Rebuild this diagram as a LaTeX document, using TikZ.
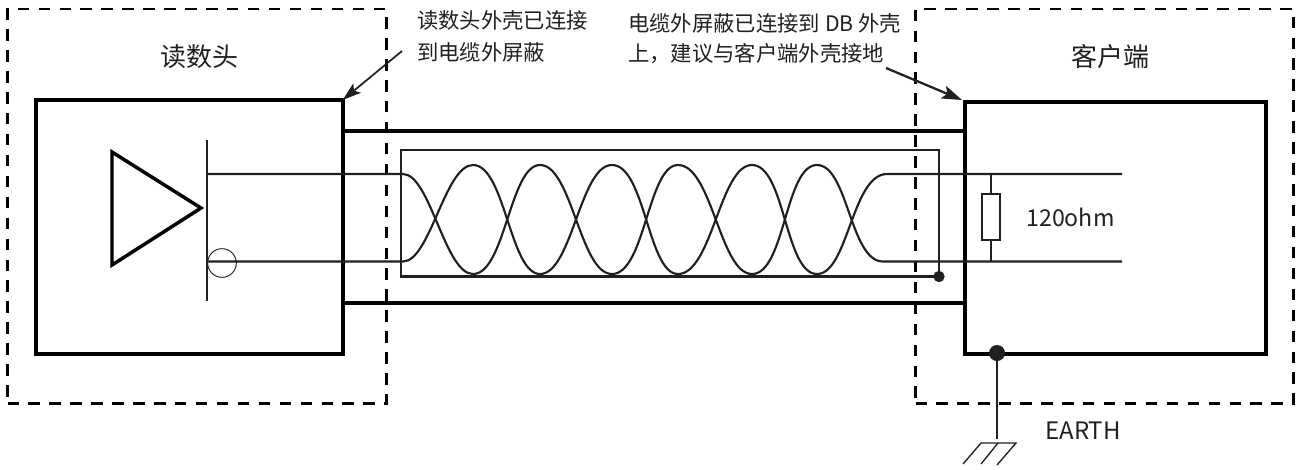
\documentclass[tikz,border=0pt]{standalone}
\usepackage{fontspec}
\setmainfont{Noto Sans CJK SC}
\usetikzlibrary{arrows.meta}
\definecolor{ink}{HTML}{231F20}
\tikzset{
  x=0.75pt,y=-0.75pt,
  guard/.style={draw=black,line width=2.1pt,dash pattern=on 8.6pt off 7.1pt,minimum width=#1,minimum height=296pt,inner sep=0pt,outer sep=0pt},
  device/.style={draw=black,line width=3.2pt,inner sep=0pt,outer sep=0pt},
  cableline/.style={draw=black,line width=2.5pt},
  wire/.style={draw=ink,line width=1.6pt},
  thinwire/.style={draw=ink,line width=0.8pt},
  shield/.style={draw=ink,line width=1.6pt},
  junction/.style={circle,fill=ink,inner sep=0pt,outer sep=0pt},
  bigtext/.style={text=ink,font=\fontsize{19.5}{24}\selectfont,inner sep=0pt},
  smalltextA/.style={text=ink,font=\fontsize{16}{24}\selectfont,inner sep=0pt,align=left,anchor=north west},
  smalltextB/.style={text=ink,font=\fontsize{16}{22}\selectfont,inner sep=0pt,align=left,anchor=north west},
  midtext/.style={text=ink,inner sep=0pt},
}
\begin{document}
\begin{tikzpicture}
\useasboundingbox (0,0) rectangle (1301,469);
% guard frames
\node[guard=284pt,anchor=north west] (gl) at (7.5,9) {};
\node[guard=283.5pt,anchor=north west] (gr) at (915.5,9) {};
% cable
\node[device,minimum width=230pt,minimum height=190.5pt,anchor=north west] (reader) at (36,100) {};
\node[device,minimum width=225.5pt,minimum height=189pt,anchor=north west] (client) at (965,102) {};
\coordinate (rt) at (reader.east |- 0,131);
\coordinate (ct) at (client.west |- 0,131);
\coordinate (rb) at (reader.east |- 0,303);
\coordinate (cb) at (client.west |- 0,303);
\draw[cableline] (rt) -- (ct);
\draw[cableline] (rb) -- (cb);
% shield
\coordinate (sa) at (401,276.5);
\coordinate (sb) at (401,150);
\coordinate (sc) at (939,150);
\node[junction,minimum size=8.5pt] (sdot) at (939,276.5) {};
\draw[shield] (sdot.center) -- (sc) -- (sb) -- (sa) -- (sdot.center);
% driver
\coordinate (bart) at (207,140);
\coordinate (barb) at (207,301);
\draw[wire] (bart) -- (barb);
\draw[draw=black,line width=2.6pt,line join=miter] (112,152) -- (201,208) -- (112,265) -- cycle;
\node[circle,draw=ink,line width=0.7pt,minimum size=21.5pt,inner sep=0pt] (inv) at (222,263) {};
% twisted pair
\coordinate (a0) at (207,174);
\coordinate (b0) at (207,261.5);
\coordinate (a1) at (1122,261.5);
\coordinate (b1) at (1122,174);
\draw[wire] (a0) -- (403,174) .. controls (430,174) and (445,274) .. (473,274)
  .. controls (505,274) and (510,165) .. (540,165)
  .. controls (572,165) and (580,274) .. (612,274)
  .. controls (645,274) and (648,165) .. (678,165)
  .. controls (712,165) and (720,274) .. (752,274)
  .. controls (785,274) and (785,165) .. (817,165)
  .. controls (848,165) and (850,261.5) .. (883,261.5) -- (a1);
\draw[wire] (b0) -- (403,261.5) .. controls (430,261.5) and (445,165) .. (473,165)
  .. controls (505,165) and (510,274) .. (540,274)
  .. controls (572,274) and (580,165) .. (612,165)
  .. controls (645,165) and (648,274) .. (678,274)
  .. controls (712,274) and (720,165) .. (752,165)
  .. controls (785,165) and (785,274) .. (817,274)
  .. controls (848,274) and (852,174) .. (887,174) -- (b1);
% resistor
\node[draw=ink,line width=1.3pt,minimum width=13.5pt,minimum height=34.5pt,inner sep=0pt,outer sep=0pt] (res) at (991,217) {};
\coordinate (rtop) at (res.center |- b1);
\coordinate (rbot) at (res.center |- a1);
\draw[thinwire] (rtop) -- (res.north);
\draw[thinwire] (res.south) -- (rbot);
\node[midtext,font=\fontsize{17.4}{20}\selectfont,anchor=west] (ohm) at (1026,217) {120ohm};
% earth
\node[junction,minimum size=12pt] (edot) at (997,353) {};
\coordinate (gnd) at (997,439);
\coordinate (bl) at (981,443);
\coordinate (bm) at (998,443);
\coordinate (br) at (1016,443);
\draw[draw=ink,line width=1.3pt] (edot.center) -- (gnd);
\draw[draw=ink,line width=1pt] (963,464) -- (bl) -- (br) -- (997,465);
\draw[draw=ink,line width=1pt] (bm) -- (981,464);
\node[midtext,font=\fontsize{18}{20}\selectfont,anchor=west] (earth) at (1045,431) {EARTH};
% labels
\node[bigtext] (lr) at (199,57) {读数头};
\node[bigtext] (lc) at (1110,57) {客户端};
\node[smalltextA] (n1) at (417,10) {读数头外壳已连接\\到电缆外屏蔽};
\node[smalltextB] (n2) at (628,13.5) {电缆外屏蔽已连接到 DB 外壳\\上，建议与客户端外壳接地};
\coordinate (n1a) at (402,51);
\coordinate (n2a) at (886,68);
\draw[-{Stealth[length=14pt,width=9pt,inset=3pt]},draw=ink,line width=1.3pt] (n1a) -- (reader.north east);
\draw[-{Stealth[length=15pt,width=10pt,inset=3pt]},draw=ink,line width=1.7pt] (n2a) -- (962,100);
\end{tikzpicture}
\end{document}
